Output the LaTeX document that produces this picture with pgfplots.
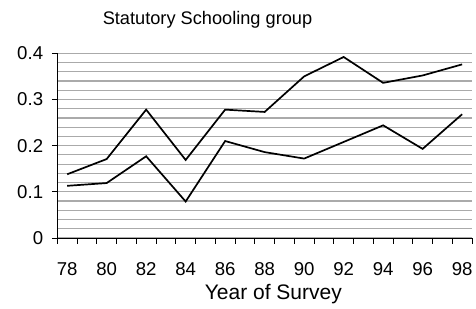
\documentclass[border=0pt]{standalone}
\usepackage{pgfplots}
\pgfplotsset{compat=1.18}
\usepackage{fontspec}
\setmainfont{Liberation Sans}
\definecolor{gridgray}{RGB}{170,170,170}
\begin{document}
\begin{tikzpicture}
\useasboundingbox (-57.3bp,-71bp) rectangle (418.7bp,238bp);
\begin{axis}[
  at={(0,0)}, anchor=south west,
  scale only axis, width=414.7bp, height=184.7bp,
  xmin=77.5, xmax=98.5, ymin=0, ymax=0.4,
  axis x line=bottom, axis y line=left,
  axis line style={-, black, line width=0.9bp},
  xtick={77.5,78.5,...,98.5}, xticklabels={},
  extra x ticks={78,80,...,98},
  extra x tick labels={78,80,82,84,86,88,90,92,94,96,98},
  extra x tick style={major tick length=0pt, grid=none},
  ytick={0,0.1,0.2,0.3,0.4},
  yticklabels={0,0.1,0.2,0.3,0.4},
  minor y tick num=4,
  ymajorgrids, yminorgrids,
  major grid style={draw=gridgray, line width=1.2bp},
  minor grid style={draw=gridgray, line width=1.2bp},
  tick align=outside, major tick length=5.5bp, minor tick length=0pt,
  tick style={black, line width=0.9bp},
  ticklabel style={font=\fontsize{18.6bp}{20bp}\selectfont, inner sep=0pt},
  xticklabel style={anchor=base, yshift=-37.7bp},
  yticklabel style={anchor=east, xshift=-8.5bp},
  /pgf/number format/assume math mode=true,
  clip=false,
]
\addplot[black, line width=1.7bp] coordinates {
(78,0.138)(80,0.171)(82,0.278)(84,0.169)(86,0.278)(88,0.273)(90,0.350)(92,0.392)(94,0.336)(96,0.352)(98,0.376)};
\addplot[black, line width=1.7bp] coordinates {
(78,0.113)(80,0.119)(82,0.177)(84,0.079)(86,0.210)(88,0.186)(90,0.172)(92,0.208)(94,0.244)(96,0.193)(98,0.268)};
\end{axis}
\node[anchor=base, font=\fontsize{18.2bp}{20bp}\selectfont, inner sep=0pt] at (150.2bp,213bp) {Statutory Schooling group};
\node[anchor=base, font=\fontsize{21bp}{23bp}\selectfont, inner sep=0pt] at (216bp,-61bp) {Year of Survey};
\end{tikzpicture}
\end{document}
